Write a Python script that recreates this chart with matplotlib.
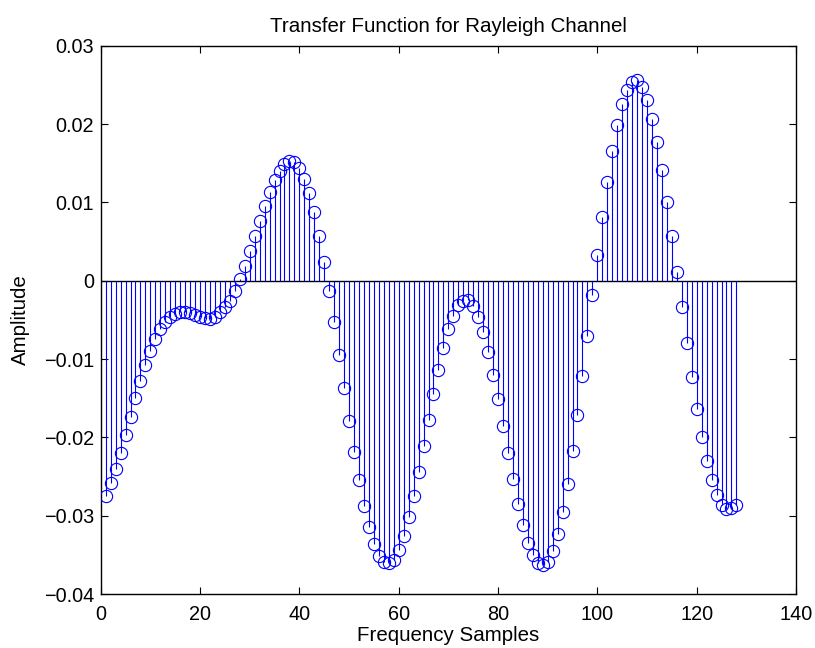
import matplotlib
matplotlib.use("Agg")
import matplotlib.pyplot as plt
import numpy as np

plt.rcParams['font.family'] = ['Liberation Sans', 'DejaVu Sans']

samples = list(range(1, 129))
amplitude = [
    -0.02753, -0.02587, -0.02409, -0.02196, -0.01966, -0.01736, -0.01502, -0.01281,
    -0.01077, -0.00894, -0.00745, -0.00621, -0.00532, -0.00460, -0.00421, -0.00404,
    -0.00404, -0.00417, -0.00438, -0.00464, -0.00481, -0.00485, -0.00460, -0.00404,
    -0.00336, -0.00255, -0.00128, 0.00021, 0.00191, 0.00374, 0.00566, 0.00766,
    0.00957, 0.01136, 0.01281, 0.01404, 0.01489, 0.01532, 0.01511, 0.01434,
    0.01298, 0.01115, 0.00872, 0.00574, 0.00240, -0.00136, -0.00532, -0.00949,
    -0.01370, -0.01787, -0.02183, -0.02549, -0.02872, -0.03149, -0.03362, -0.03511,
    -0.03596, -0.03609, -0.03562, -0.03434, -0.03255, -0.03021, -0.02745, -0.02438,
    -0.02106, -0.01774, -0.01447, -0.01136, -0.00860, -0.00617, -0.00447, -0.00311,
    -0.00255, -0.00247, -0.00319, -0.00468, -0.00660, -0.00906, -0.01200, -0.01511,
    -0.01851, -0.02200, -0.02532, -0.02851, -0.03125, -0.03350, -0.03505, -0.03609,
    -0.03635, -0.03590, -0.03450, -0.03230, -0.02950, -0.02600, -0.02180, -0.01720,
    -0.01220, -0.00700, -0.00179, 0.00323, 0.00809, 0.01260, 0.01660, 0.01991,
    0.02255, 0.02430, 0.02532, 0.02557, 0.02468, 0.02302, 0.02068, 0.01770,
    0.01409, 0.01004, 0.00566, 0.00108, -0.00340, -0.00800, -0.01234, -0.01638,
    -0.01991, -0.02298, -0.02545, -0.02736, -0.02864, -0.02915, -0.02906, -0.02860,
]

xticks = [0, 20, 40, 60, 80, 100, 120, 140]
yticks = [-0.04, -0.03, -0.02, -0.01, 0, 0.01, 0.02, 0.03]
ytick_labels = ['\u22120.04', '\u22120.03', '\u22120.02', '\u22120.01', '0', '0.01', '0.02', '0.03']

fig = plt.figure(figsize=(8.15, 6.48), dpi=100)
ax = fig.add_axes([0.1236, 0.0833, 0.8531, 0.8461])

ax.axhline(0, color='black', linewidth=1.0, zorder=1)
ax.vlines(samples, 0, amplitude, colors='#0000ff', linewidth=0.8, zorder=2)
ax.plot(samples, amplitude, linestyle='none', marker='o', markersize=8.8,
        markerfacecolor='none', markeredgecolor='#0000ff', markeredgewidth=0.8, zorder=3)

ax.set_xlim(0, 140)
ax.set_ylim(-0.04, 0.03)
ax.set_xticks(xticks)
ax.set_xticklabels([str(t) for t in xticks])
ax.set_yticks(yticks)
ax.set_yticklabels(ytick_labels)
ax.tick_params(direction='in', length=5, width=0.8, labelsize=14.3, top=True, right=True)
ax.tick_params(axis='x', pad=8)
ax.tick_params(axis='y', pad=5)
for s in ax.spines.values():
    s.set_linewidth(1.0)

ax.set_title('Transfer Function for Rayleigh Channel', fontsize=14.8, pad=10)
ax.set_xlabel('Frequency Samples', fontsize=14.8, labelpad=1)
ax.set_ylabel('Amplitude', fontsize=14.8, labelpad=10)

fig.savefig('out.png', dpi=100, facecolor='white')
